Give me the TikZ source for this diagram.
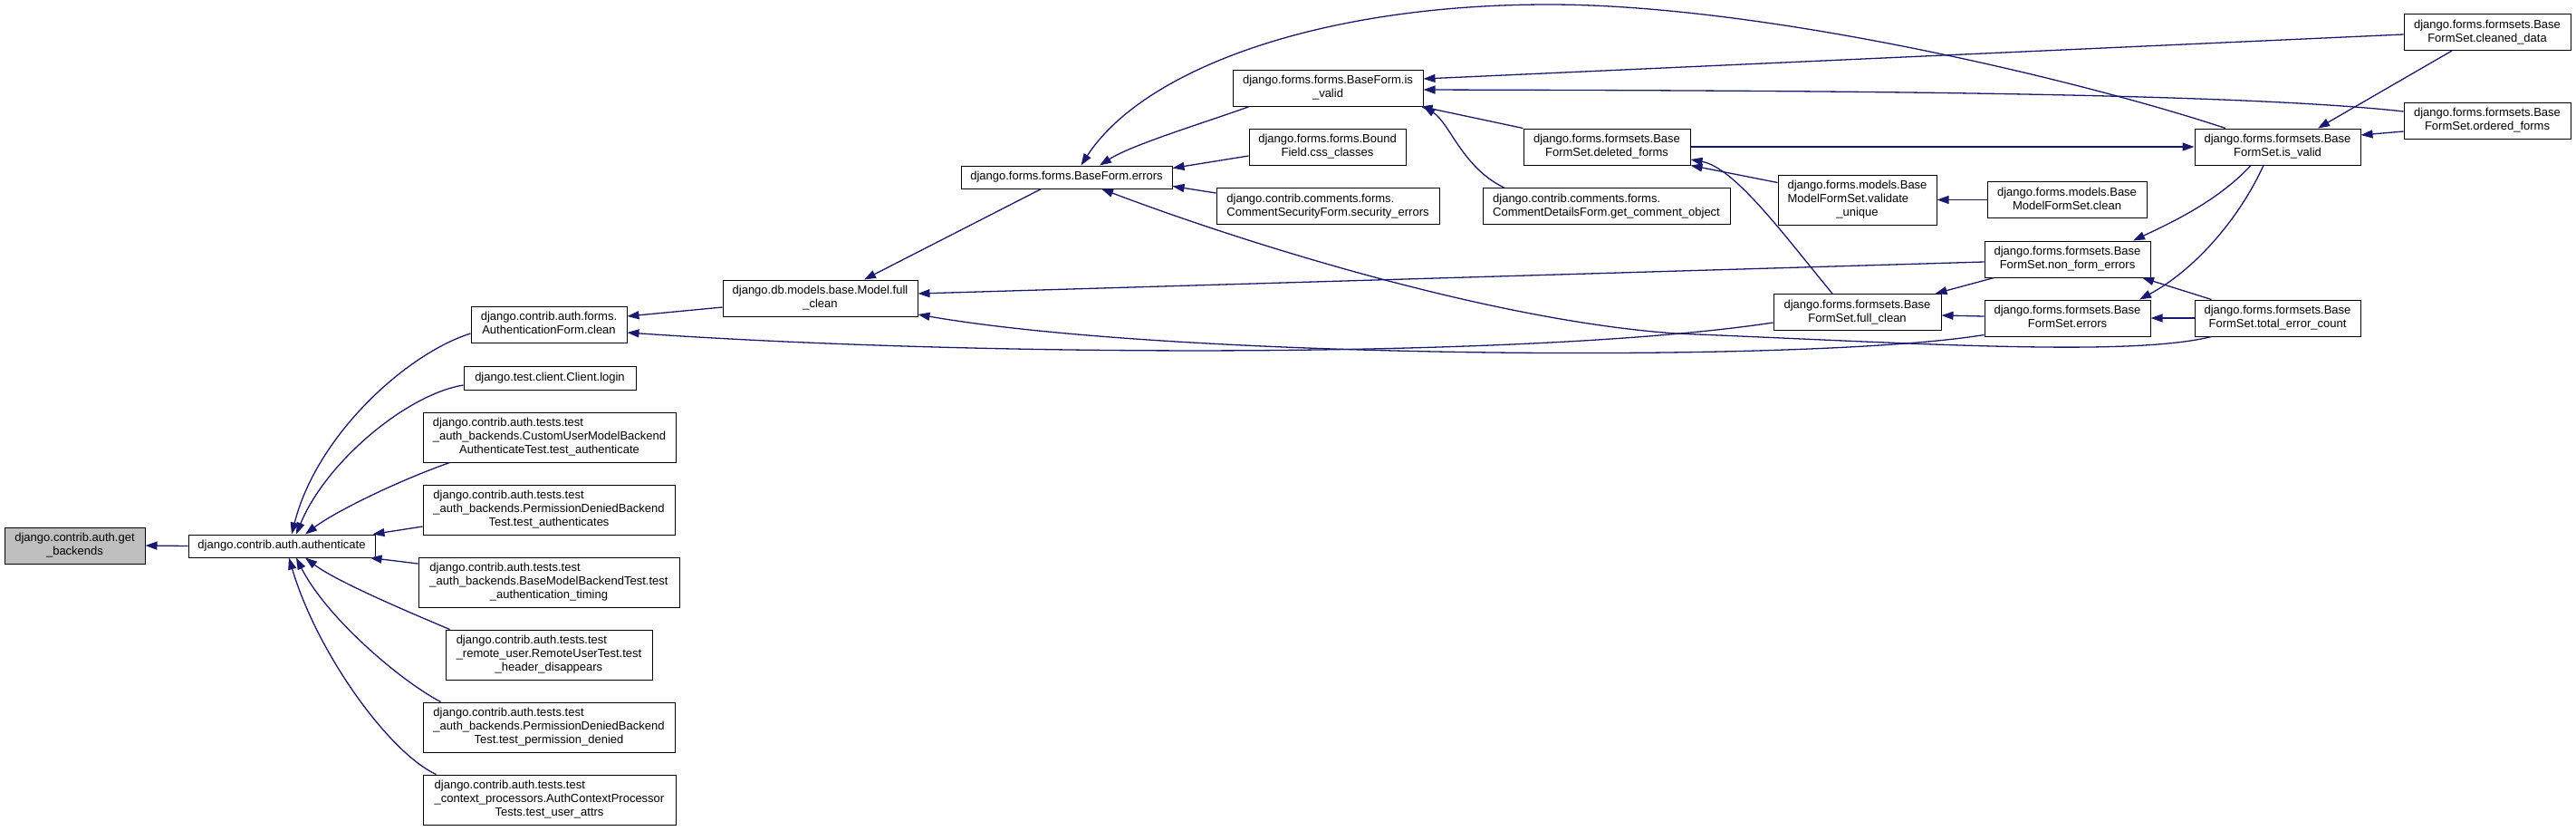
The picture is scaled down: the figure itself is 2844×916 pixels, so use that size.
\documentclass[tikz,border=0pt]{standalone}
\usepackage{fontspec}
\setmainfont{Liberation Sans}
\usetikzlibrary{arrows.meta,calc}
\definecolor{edgecol}{HTML}{191970}
\definecolor{rootfill}{HTML}{BFBFBF}
\newcommand{\TwoL}[2]{\begin{tabular}{@{}l@{}}#1\\\multicolumn{1}{@{}c@{}}{#2}\end{tabular}}
\newcommand{\ThreeL}[3]{\begin{tabular}{@{}l@{}}#1\\#2\\\multicolumn{1}{@{}c@{}}{#3}\end{tabular}}
\tikzset{
  nd/.style={draw=black, line width=1pt, fill=white, inner sep=1pt, anchor=center,
             font=\fontsize{13}{15}\selectfont},
  ed/.style={draw=edgecol, line width=1.3pt, -{Triangle[length=13pt,width=9pt]}}
}
\begin{document}
\begin{tikzpicture}[x=1pt,y=-1pt]
\fill[white] (0,0) rectangle (2844,916);
\useasboundingbox (0,0) rectangle (2844,916);

% nodes
\node[nd, fill=rootfill, minimum width=155pt, minimum height=40pt] (gb) at (82.5,602) {\TwoL{django.contrib.auth.get}{\_backends}};
\node[nd, minimum width=206pt, minimum height=25pt] (auth) at (311,602.5) {django.contrib.auth.authenticate};
\node[nd, minimum width=172pt, minimum height=40pt] (afc) at (606,358) {\TwoL{django.contrib.auth.forms.}{AuthenticationForm.clean}};
\node[nd, minimum width=190pt, minimum height=26pt] (login) at (607,417) {django.test.client.Client.login};
\node[nd, minimum width=279pt, minimum height=55pt] (cumb) at (606.5,482.5) {\ThreeL{django.contrib.auth.tests.test}{\_auth\_backends.CustomUserModelBackend}{AuthenticateTest.test\_authenticate}};
\node[nd, minimum width=278pt, minimum height=55pt] (pdta) at (606,562.5) {\ThreeL{django.contrib.auth.tests.test}{\_auth\_backends.PermissionDeniedBackend}{Test.test\_authenticates}};
\node[nd, minimum width=288pt, minimum height=55pt] (bmbt) at (606,642.5) {\ThreeL{django.contrib.auth.tests.test}{\_auth\_backends.BaseModelBackendTest.test}{\_authentication\_timing}};
\node[nd, minimum width=228pt, minimum height=55pt] (rut) at (606,722.5) {\ThreeL{django.contrib.auth.tests.test}{\_remote\_user.RemoteUserTest.test}{\_header\_disappears}};
\node[nd, minimum width=278pt, minimum height=55pt] (pdpd) at (606,802.5) {\ThreeL{django.contrib.auth.tests.test}{\_auth\_backends.PermissionDeniedBackend}{Test.test\_permission\_denied}};
\node[nd, minimum width=279pt, minimum height=55pt] (acp) at (606.5,882.5) {\ThreeL{django.contrib.auth.tests.test}{\_context\_processors.AuthContextProcessor}{Tests.test\_user\_attrs}};
\node[nd, minimum width=215pt, minimum height=40pt] (mfc) at (905.5,329) {\TwoL{django.db.models.base.Model.full}{\_clean}};
\node[nd, minimum width=233pt, minimum height=25pt] (bfe) at (1177.5,195.5) {django.forms.forms.BaseForm.errors};
\node[nd, minimum width=210pt, minimum height=40pt] (bfiv) at (1466,97) {\TwoL{django.forms.forms.BaseForm.is}{\_valid}};
\node[nd, minimum width=173pt, minimum height=40pt] (bf) at (1465.5,162) {\TwoL{django.forms.forms.Bound}{Field.css\_classes}};
\node[nd, minimum width=246pt, minimum height=40pt] (csf) at (1466,227.5) {\TwoL{django.contrib.comments.forms.}{CommentSecurityForm.security\_errors}};
\node[nd, minimum width=184pt, minimum height=40pt] (df) at (1774,162) {\TwoL{django.forms.formsets.Base}{FormSet.deleted\_forms}};
\node[nd, minimum width=273pt, minimum height=40pt] (cdf) at (1773.5,227.5) {\TwoL{django.contrib.comments.forms.}{CommentDetailsForm.get\_comment\_object}};
\node[nd, minimum width=175pt, minimum height=55pt] (vu) at (2050.5,220.5) {\ThreeL{django.forms.models.Base}{ModelFormSet.validate}{\_unique}};
\node[nd, minimum width=176pt, minimum height=40pt] (mfsc) at (2282,220.5) {\TwoL{django.forms.models.Base}{ModelFormSet.clean}};
\node[nd, minimum width=183pt, minimum height=40pt] (nfe) at (2282.5,286) {\TwoL{django.forms.formsets.Base}{FormSet.non\_form\_errors}};
\node[nd, minimum width=185pt, minimum height=40pt] (fsfc) at (2050.5,344.5) {\TwoL{django.forms.formsets.Base}{FormSet.full\_clean}};
\node[nd, minimum width=183pt, minimum height=40pt] (fse) at (2282.5,351) {\TwoL{django.forms.formsets.Base}{FormSet.errors}};
\node[nd, minimum width=183pt, minimum height=40pt] (fsiv) at (2514.5,162) {\TwoL{django.forms.formsets.Base}{FormSet.is\_valid}};
\node[nd, minimum width=183pt, minimum height=40pt] (tec) at (2514.5,351) {\TwoL{django.forms.formsets.Base}{FormSet.total\_error\_count}};
\node[nd, minimum width=184pt, minimum height=40pt] (cd) at (2746,35.5) {\TwoL{django.forms.formsets.Base}{FormSet.cleaned\_data}};
\node[nd, minimum width=184pt, minimum height=40pt] (of) at (2746,133) {\TwoL{django.forms.formsets.Base}{FormSet.ordered\_forms}};

% edges into authenticate / get_backends
\draw[ed] (auth.west) -- (gb.east);
\draw[ed] ($(afc.west)+(0,10)$) .. controls +(-70,22) and +(28,-110) .. ($(auth.north)+(11,0)$);
\draw[ed] ($(login.west)+(0,8)$) .. controls +(-62,10) and +(33,-80) .. ($(auth.north)+(16,0)$);
\draw[ed] ($(cumb.south west)+(30,0)$) .. controls +(-57,20) and +(33,-25) .. ($(auth.north)+(26,0)$);
\draw[ed] ($(pdta.west)+(0,18.5)$) -- ($(auth.north east)+(-3,0)$);
\draw[ed] ($(bmbt.west)+(0,-20.5)$) -- ($(auth.south east)+(-6,0)$);
\draw[ed] ($(rut.north west)+(5,0)$) .. controls +(-57,-24) and +(33,25) .. ($(auth.south)+(26,0)$);
\draw[ed] ($(pdpd.north west)+(20,0)$) .. controls +(-47,-25) and +(33,65) .. ($(auth.south)+(16,0)$);
\draw[ed] ($(acp.north west)+(15,0)$) .. controls +(-52,-24) and +(31,105) .. ($(auth.south)+(8,0)$);

% AuthenticationForm.clean
\draw[ed] ($(mfc.west)+(0,10)$) -- ($(afc.east)+(0,-9)$);
\draw[ed] ($(fsfc.west)+(0,11.5)$) .. controls +(-258,39) and +(408,28) .. ($(afc.east)+(0,9)$);

% Model.full_clean
\draw[ed] ($(bfe.south west)+(89,0)$) -- ($(mfc.north)+(48.5,0)$);
\draw[ed] ($(nfe.west)+(0,3)$) -- ($(mfc.east)+(0,-5)$);
\draw[ed] ($(fse.south west)+(0,-2)$) .. controls +(-189,31) and +(287,50) .. ($(mfc.east)+(0,18)$);

% BaseForm.errors
\draw[ed] ($(tec.south west)+(19,0)$) .. controls +(-92,23) and +(250,10) .. (1850,368)
          .. controls +(-200,-14) and +(164,62) .. ($(bfe.south)+(38.5,0)$);
\draw[ed] ($(bfiv.south west)+(19,0)$) .. controls +(-50,18) and +(36,-23) .. ($(bfe.north)+(36.5,0)$);
\draw[ed] ($(fsiv.north)+(-57.5,0)$) .. controls +(-157,-52) and +(240,0) .. (1710,5)
          .. controls +(-260,0) and +(66.5,-103) .. ($(bfe.north)+(16,0)$);
\draw[ed] ($(bf.west)+(0,10)$) -- ($(bfe.east)+(0,-10)$);
\draw[ed] ($(csf.west)+(0,-14.5)$) -- ($(bfe.east)+(0,10)$);

% BaseForm.is_valid
\draw[ed] ($(cd.west)+(0,2.5)$) -- ($(bfiv.east)+(0,-10)$);
\draw[ed] ($(of.west)+(0,-10)$) .. controls +(-204,-23) and +(329,1) .. ($(bfiv.east)+(0,2)$);
\draw[ed] (df.north west) -- ($(bfiv.south east)+(-3,0)$);
\draw[ed] ($(cdf.north west)+(24,0)$) .. controls +(-46,-22) and +(29,18) .. (bfiv.south east);

% deleted_forms
\draw[ed] (df.east) -- (fsiv.west);
\draw[ed] ($(vu.north west)+(0,9)$) -- (df.south east);
\draw[ed] ($(fsfc.north)+(-27.5,0)$) .. controls +(-53,-64) and +(49,9) .. ($(df.east)+(0,14)$);
\draw[ed] (mfsc.west) -- (vu.east);

% formset is_valid and friends
\draw[ed] ($(fsiv.south)+(-29.5,0)$) .. controls +(-35,38) and +(45,-21) .. ($(nfe.north)+(72.5,0)$);
\draw[ed] ($(fsiv.south)+(-15.5,0)$) .. controls +(-29,63) and +(58,-31) .. ($(fse.north)+(79.5,0)$);
\draw[ed] ($(nfe.south west)+(11,0)$) -- ($(fsfc.north east)+(-7,0)$);
\draw[ed] ($(fse.west)+(0,-2)$) -- ($(fsfc.east)+(0,3.5)$);
\draw[ed] ($(tec.north west)+(19,0)$) -- ($(nfe.south)+(82.5,0)$);
\draw[ed] (tec.west) -- (fse.east);
\draw[ed] ($(cd.south)+(-39,0)$) -- ($(fsiv.north)+(44.5,0)$);
\draw[ed] ($(of.west)+(0,12)$) -- ($(fsiv.east)+(0,-13)$);
\end{tikzpicture}
\end{document}
